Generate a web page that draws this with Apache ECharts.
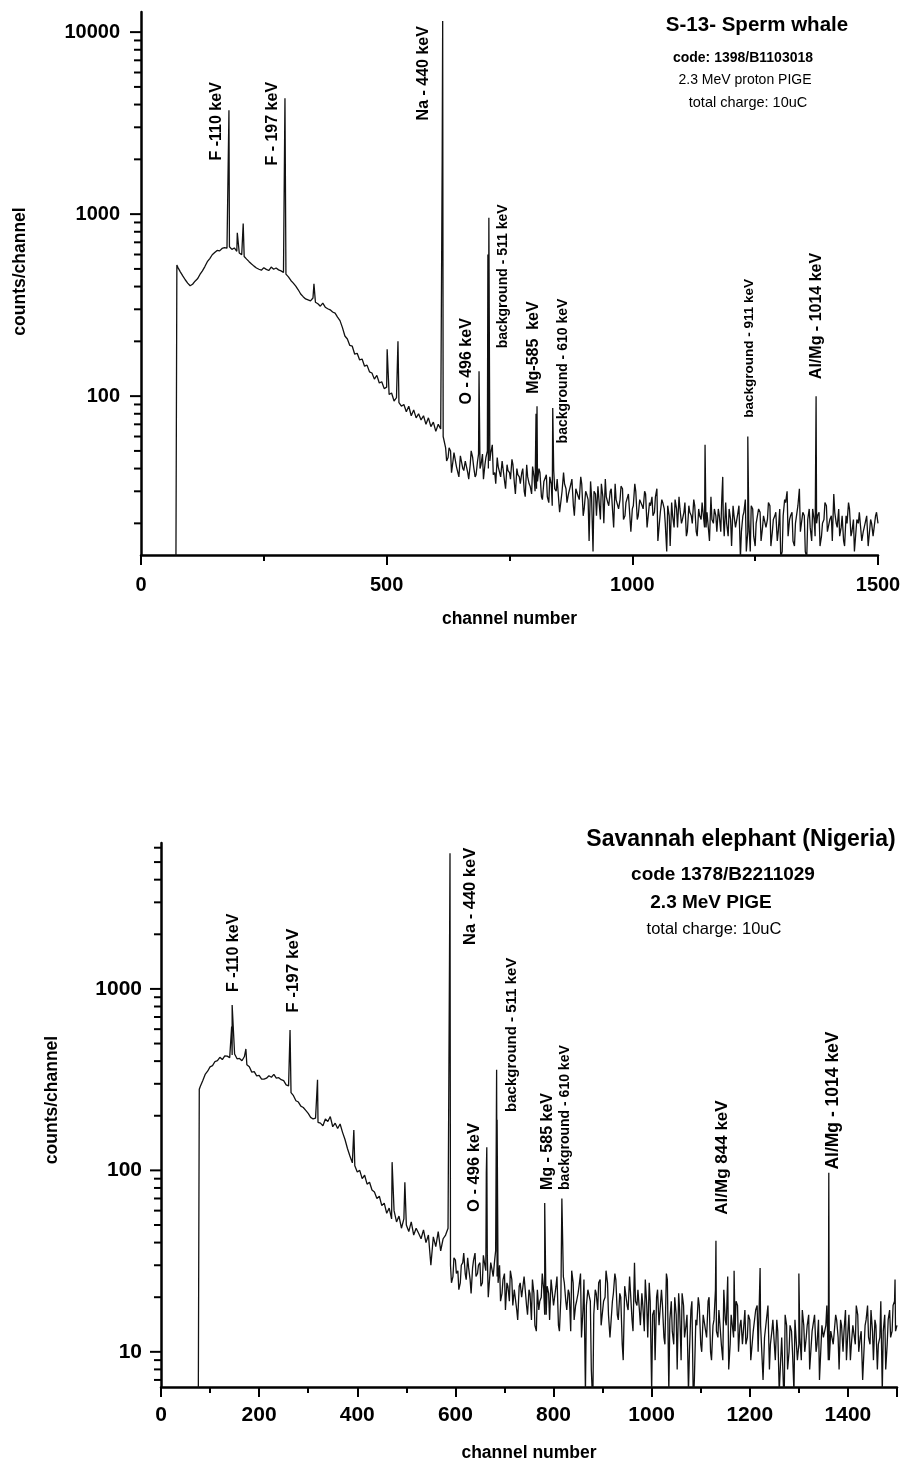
<!DOCTYPE html>
<html>
<head>
<meta charset="utf-8">
<script src="https://cdn.jsdelivr.net/npm/echarts@6/dist/echarts.min.js"></script>
<style>
html,body{margin:0;padding:0;background:#fff;}
#chart{width:904px;height:1463px;}
</style>
</head>
<body>
<div id="chart"></div>
<script>
// ---------- DATA ----------
// Sperm whale spectrum: baseline counts every 5 channels from channel 75
const whaleStart = 75;
const whaleStep = 5;
const whaleBase = [
  510, 482, 458, 436, 418, 404, 412, 428, 441, 466, 488, 515, 548, 570, 598, 615, 632, 628, 648, 655,
  650, 662, 640, 652, 625, 612, 598, 585, 566, 548, 532, 518, 506, 498, 492, 508, 497, 490, 512, 498,
  506, 494, 488, 478, 468, 452, 432, 418, 402, 384, 364, 352, 342, 338, 334, 346, 328, 322, 312, 324,
  308, 302, 298, 290, 286, 272, 260, 238, 214, 206, 190, 188, 170, 172, 158, 160, 146, 148, 136, 134,
  124, 130, 118, 120, 110, 112, 102, 104, 94, 98, 92, 88, 90, 82, 88, 78, 84, 76, 80, 74,
  78, 70, 76, 68, 72, 64, 70, 66, 60, 52, 46, 50, 44, 48, 42, 47, 40, 44, 38, 42,
  46, 36, 44, 40, 48, 42, 50, 44, 54, 38, 46, 40, 44, 34, 42, 38, 45, 33, 40, 36,
  38, 30, 42, 33, 29, 36, 31, 40, 28, 34, 37, 26, 33, 39, 30, 35, 27, 38, 31, 29,
  33, 25, 31, 28, 36, 22, 30, 27, 34, 14, 29, 32, 21, 28, 35, 26, 30, 23, 33, 27,
  27, 31, 22, 26, 29, 24, 33, 21, 27, 25, 30, 19, 26, 28, 23, 31, 20, 27, 24, 14,
  22, 26, 19, 24, 28, 20, 23, 17, 25, 22, 27, 18, 24, 21, 26, 19, 23, 28, 20, 22,
  24, 18, 22, 26, 17, 21, 25, 19, 23, 13, 22, 27, 18, 14, 24, 15, 20, 23, 19, 22,
  21, 25, 18, 22, 16, 24, 14, 27, 30, 21, 23, 15, 20, 31, 18, 22, 13, 24, 16, 21,
  20, 23, 17, 21, 25, 18, 22, 29, 20, 24, 19, 16, 22, 26, 17, 21, 14, 20, 23, 18,
  19, 15, 21, 17, 22, 20
];
// extra readings in the noisy tail, every 5 channels from channel 622
const whaleTailStart = 622;
const whaleTail = [
  44, 52, 38, 49, 41, 36, 47, 39, 44, 35, 50, 41, 37, 48, 42, 35, 46, 40, 49, 37,
  33, 41, 36, 44, 31, 39, 35, 42, 29, 37, 33, 40, 28, 36, 32, 41, 30, 34, 38, 27,
  34, 28, 36, 25, 31, 35, 23, 30, 33, 26, 29, 35, 22, 31, 27, 33, 24, 29, 16, 28,
  30, 22, 27, 33, 20, 28, 25, 31, 19, 27, 24, 32, 21, 26, 29, 18, 25, 30, 22, 27,
  24, 29, 19, 25, 22, 28, 16, 23, 26, 20, 25, 15, 22, 27, 19, 24, 21, 26, 18, 23,
  20, 25, 17, 22, 26, 19, 23, 16, 21, 24, 18, 22, 27, 17, 20, 24, 15, 22, 19, 25,
  18, 23, 14, 21, 25, 17, 20, 24, 16, 22, 19, 26, 15, 21, 23, 18, 13, 22, 26, 17,
  22, 16, 20, 25, 18, 23, 14, 21, 19, 24, 17, 22, 15, 20, 26, 18, 21, 16, 23, 19,
  17, 22, 15, 20, 24, 18, 14, 21, 23, 16, 19, 22, 15, 20, 17, 23
];
// sharp lines and the low-energy edge: [channel, counts]
const whaleSpikes = [
  [71, 10], [73, 525], [179, 3720], [196, 790], [208, 888], [293, 4330], [352, 414],
  [501, 181], [523, 200], [613, 2000], [614, 11500], [688, 137], [706, 600], [708, 955],
  [804, 80], [806, 88], [838, 86], [1148, 54], [1184, 36], [1235, 60], [1374, 100]
];
const whaleYTicks = [100, 1000, 10000];
const whaleLabels = [
  ['F -110 keV', 153, 1972, 16],
  ['F - 197 keV', 267, 1849, 16],
  ['Na - 440 keV', 576, 3273, 16],
  ['O - 496 keV', 663, 90, 16],
  ['background - 511 keV', 737, 183, 14],
  ['Mg-585  keV', 800, 103, 16],
  ['background - 610 keV', 859, 55, 14],
  ['background - 911 keV', 1239, 76, 13.5],
  ['Al/Mg - 1014 keV', 1376, 124, 16]
];

// Savannah elephant spectrum: baseline counts every 5 channels from channel 80
const elephantStart = 80;
const elephantStep = 5;
const elephantBase = [
  290, 312, 338, 352, 372, 378, 398, 402, 420, 408, 428, 426, 418, 432, 438, 412, 414, 402, 424, 382,
  372, 348, 350, 332, 334, 318, 318, 322, 332, 326, 338, 322, 324, 316, 312, 296, 292, 268, 258, 242,
  238, 226, 222, 214, 206, 196, 192, 194, 184, 182, 176, 192, 186, 198, 174, 182, 170, 180, 162, 148,
  132, 120, 110, 106, 98, 100, 90, 94, 84, 86, 78, 76, 70, 72, 64, 66, 58, 62, 54, 60,
  52, 56, 48, 54, 50, 46, 52, 44, 48, 45, 42, 47, 40, 44, 30, 43, 38, 46, 36, 42,
  44, 48, 30, 26, 32, 28, 24, 31, 27, 33, 25, 29, 35, 27, 31, 24, 30, 34, 26, 28,
  32, 26, 30, 21, 27, 24, 19, 25, 22, 17, 23, 20, 26, 18, 22, 15, 21, 13, 17, 20,
  22, 16, 21, 25, 18, 23, 14, 20, 26, 19, 22, 13, 24, 18, 21, 27, 17, 6, 22, 19,
  5, 22, 17, 25, 14, 20, 24, 12, 19, 27, 16, 21, 11, 23, 18, 26, 15, 31, 18, 17,
  21, 13, 18, 24, 6, 17, 20, 14, 22, 12, 27, 6, 19, 11, 16, 21, 9, 18, 14, 6,
  17, 5, 15, 20, 11, 16, 13, 19, 10, 14, 22, 12, 17, 9, 15, 26, 11, 16, 13, 18,
  14, 11, 17, 12, 15, 9, 13, 18, 10, 14, 12, 16, 8, 13, 11, 15, 6, 12, 5, 14,
  10, 13, 6, 15, 11, 9, 14, 12, 16, 8, 13, 10, 15, 7, 12, 14, 9, 13, 11, 16,
  12, 15, 10, 17, 13, 9, 14, 11, 16, 12, 7, 14, 18, 11, 13, 15, 8, 12, 6, 16,
  11, 17, 13, 19, 14
];
// extra readings in the noisy tail, every 5 channels from channel 592
const elephantTailStart = 592;
const elephantTail = [
  24, 33, 27, 22, 30, 35, 25, 29, 21, 32, 26, 30, 23, 34, 28, 20, 31, 26, 36, 24,
  19, 25, 17, 23, 28, 18, 22, 15, 24, 20, 26, 16, 21, 25, 14, 22, 19, 27, 16, 23,
  15, 22, 18, 26, 13, 20, 24, 17, 21, 28, 15, 19, 23, 12, 25, 18, 22, 8, 16, 21,
  24, 14, 19, 28, 16, 12, 21, 25, 15, 20, 9, 23, 17, 26, 13, 19, 22, 14, 18, 25,
  12, 19, 16, 9, 22, 14, 18, 11, 25, 15, 13, 20, 8, 17, 21, 12, 16, 10, 19, 7,
  14, 18, 10, 16, 12, 20, 9, 15, 13, 17, 11, 22, 14, 8, 16, 12, 19, 10, 15, 13,
  11, 16, 9, 13, 17, 10, 14, 7, 12, 18, 11, 15, 9, 13, 6, 12, 16, 8, 14, 10,
  15, 9, 12, 17, 10, 14, 8, 13, 16, 11, 7, 14, 12, 18, 9, 13, 11, 15, 8, 14,
  13, 9, 16, 11, 14, 18, 10, 13, 7, 15, 12, 17, 9, 14, 11, 19, 13, 8, 15, 12,
  18, 13
];
const elephantSpikes = [
  [76, 5], [78, 280], [144, 620], [145, 816], [173, 467], [263, 594], [319, 316], [393, 167],
  [471, 111], [497, 86], [588, 1500], [589, 5600], [663, 97], [664, 134], [684, 358], [685, 190],
  [782, 66], [817, 70], [1131, 41], [1168, 28], [1221, 29], [1300, 27], [1361, 97], [1496, 25]
];
const elephantYTicks = [10, 100, 1000];
const elephantLabels = [
  ['F -110 keV', 147, 962, 16],
  ['F -197 keV', 269, 738, 17],
  ['Na - 440 keV', 630, 1746, 16.5],
  ['O - 496 keV', 638, 59, 16.5],
  ['background - 511 keV', 715, 210, 15],
  ['Mg - 585 keV', 787, 78, 16],
  ['background - 610 keV', 823, 78, 14],
  ['Al/Mg 844 keV', 1143, 57, 17],
  ['Al/Mg - 1014 keV', 1369, 101, 17.5]
];

// ---------- BUILD ----------
const FONT = '"Liberation Sans", Arial, Helvetica, sans-serif';

function buildSpectrum(start, step, base, tailStart, tail, spikes) {
  const pts = base.map((v, i) => [start + i * step, v])
    .concat(tail.map((v, i) => [tailStart + i * step, v]))
    .concat(spikes.map(p => p.slice()));
  pts.sort((a, b) => a[0] - b[0]);
  return pts;
}
function tickValues(yMin, yMax, majors) {
  const out = [];
  for (let e = -1; e <= 6; e++) {
    for (let m = 1; m <= 9; m++) {
      const v = m * Math.pow(10, e);
      if (v >= yMin && v <= yMax) out.push([0, v, majors.indexOf(v) >= 0 ? 1 : 0]);
    }
  }
  return out;
}
function logLabel(v) {
  const l = Math.log10(v);
  return Math.abs(l - Math.round(l)) < 1e-6 ? String(Math.round(v)) : '';
}
function plainLabel(v) { return String(Math.round(v)); }

const charts = [
  {base: whaleBase, start: whaleStart, step: whaleStep, tailStart: whaleTailStart, tail: whaleTail,
   spikes: whaleSpikes, yMin: 13.4, yMax: 12900,
   majors: whaleYTicks, labels: whaleLabels, xInterval: 500,
   grid: {left: 141, right: 26, top: 12, bottom: 908}, labelSize: 20, xMargin: 20, yMargin: 21,
   nameGapX: 55, nameGapY: 112, namePad: 24},
  {base: elephantBase, start: elephantStart, step: elephantStep, tailStart: elephantTailStart, tail: elephantTail,
   spikes: elephantSpikes, yMin: 6.4, yMax: 6370,
   majors: elephantYTicks, labels: elephantLabels, xInterval: 200,
   grid: {left: 161, right: 7, top: 843, bottom: 76}, labelSize: 21, xMargin: 18, yMargin: 19,
   nameGapX: 57, nameGapY: 100, namePad: 30}
];

const option = {
  animation: false,
  backgroundColor: '#fff',
  grid: charts.map(c => Object.assign({containLabel: false}, c.grid)),
  xAxis: charts.map((c, i) => ({
    gridIndex: i, type: 'value', min: 0, max: 1500, interval: c.xInterval,
    axisLine: {onZero: false, lineStyle: {color: '#000', width: 2.5}},
    axisTick: {length: 10, lineStyle: {color: '#000', width: 2}},
    minorTick: {show: true, splitNumber: 2, length: 6, lineStyle: {color: '#000', width: 2}},
    splitLine: {show: false},
    axisLabel: {fontSize: c.labelSize, color: '#000', fontFamily: FONT, fontWeight: 'bold', margin: c.xMargin,
                showMaxLabel: i === 0, formatter: plainLabel},
    name: 'channel number', nameLocation: 'middle', nameGap: c.nameGapX,
    nameTextStyle: {fontSize: 17.5, fontWeight: 'bold', color: '#000', fontFamily: FONT}
  })),
  yAxis: charts.map((c, i) => ({
    gridIndex: i, type: 'log', logBase: 10, min: c.yMin, max: c.yMax,
    axisLine: {lineStyle: {color: '#000', width: 2.5}},
    axisTick: {show: false},
    minorTick: {show: false},
    splitLine: {show: false},
    axisLabel: {fontSize: c.labelSize, color: '#000', fontFamily: FONT, fontWeight: 'bold', margin: c.yMargin, formatter: logLabel},
    name: 'counts/channel', nameLocation: 'middle', nameGap: c.nameGapY,
    nameTextStyle: {fontSize: 17.5, fontWeight: 'bold', color: '#000', fontFamily: FONT, padding: [0, 0, 0, c.namePad]}
  })),
  series: []
};

charts.forEach((c, i) => {
  option.series.push({
    type: 'line', xAxisIndex: i, yAxisIndex: i, showSymbol: false, symbol: 'none',
    data: buildSpectrum(c.start, c.step, c.base, c.tailStart, c.tail, c.spikes),
    lineStyle: {color: '#111', width: 1.3}, silent: true, z: 3
  });
  option.series.push({
    type: 'custom', xAxisIndex: i, yAxisIndex: i, silent: true, z: 4,
    data: tickValues(c.yMin, c.yMax, c.majors),
    renderItem: function (params, api) {
      const p = api.coord([0, api.value(1)]);
      const len = api.value(2) ? 11 : 7;
      return {type: 'line', shape: {x1: p[0] - len, y1: p[1], x2: p[0], y2: p[1]},
              style: {stroke: '#000', lineWidth: 2}};
    }
  });
  const labs = c.labels;
  option.series.push({
    type: 'custom', xAxisIndex: i, yAxisIndex: i, silent: true, z: 5,
    data: labs.map(a => [a[1], a[2]]),
    renderItem: function (params, api) {
      const a = labs[params.dataIndex];
      const p = api.coord([a[1], a[2]]);
      return {type: 'text', x: p[0], y: p[1], rotation: Math.PI / 2,
              style: {text: a[0], fontSize: a[3], fontWeight: 'bold', fontFamily: FONT, fill: '#000',
                      align: 'left', verticalAlign: 'middle'}};
    }
  });
});

// Titles / notes
function txt(s, x, y, size, weight) {
  return {type: 'text', x: x, y: y, silent: true,
          style: {text: s, fontSize: size, fontWeight: weight, fontFamily: FONT, fill: '#000',
                  align: 'center', verticalAlign: 'middle'}};
}
option.graphic = [
  txt('S-13- Sperm whale', 757, 25, 20.5, 'bold'),
  txt('code: 1398/B1103018', 743, 58, 14, 'bold'),
  txt('2.3 MeV proton PIGE', 745, 80, 14, 'normal'),
  txt('total charge: 10uC', 748, 103, 14.5, 'normal'),
  txt('Savannah elephant (Nigeria)', 741, 840, 23, 'bold'),
  txt('code 1378/B2211029', 723, 875, 19, 'bold'),
  txt('2.3 MeV PIGE', 711, 903, 19, 'bold'),
  txt('total charge: 10uC', 714, 929, 16.5, 'normal')
];

const chart = echarts.init(document.getElementById('chart'), null, {renderer: 'canvas'});
chart.setOption(option);
</script>
</body>
</html>
